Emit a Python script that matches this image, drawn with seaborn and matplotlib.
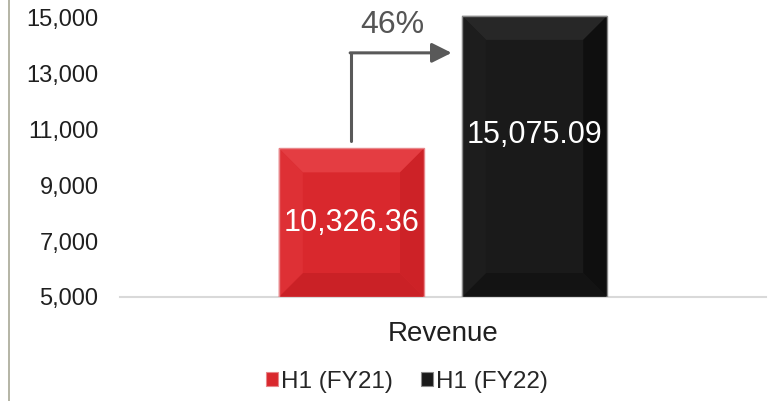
import matplotlib
matplotlib.use("Agg")
import matplotlib.pyplot as plt
import seaborn as sns
import pandas as pd
import numpy as np
from matplotlib.patches import Polygon, Patch
from matplotlib.lines import Line2D

# ---- data ----
categories = ["Revenue"]
periods = ["H1 (FY21)", "H1 (FY22)"]
values = [10326.36, 15075.09]
y_ticks = [5000, 7000, 9000, 11000, 13000, 15000]
growth_pct = round((values[1] / values[0] - 1) * 100)

df = pd.DataFrame({"category": categories * len(periods),
                   "period": periods,
                   "value": values})

colors = {"H1 (FY21)": "#D9282D", "H1 (FY22)": "#1A1A1A"}
bevel_cols = {
    "H1 (FY21)": dict(top="#E43D42", left="#DE3035", right="#CD2227", bottom="#CA2126", edge="#E8868A"),
    "H1 (FY22)": dict(top="#272727", left="#1D1D1D", right="#0F0F0F", bottom="#131313", edge="#8A8A8A"),
}

sns.set_theme(style="white")
plt.rcParams["font.family"] = ["Liberation Sans", "DejaVu Sans"]

W, H, DPI = 774, 401, 100
fig = plt.figure(figsize=(W / DPI, H / DPI), dpi=DPI)
ax_left, ax_right, ax_bottom, ax_top = 120, 766, 297, 9.6
ax = fig.add_axes([ax_left / W, 1 - ax_bottom / H, (ax_right - ax_left) / W, (ax_bottom - ax_top) / H])

sns.barplot(data=df, x="category", y="value", hue="period", hue_order=periods,
            palette=colors, width=0.567, gap=0.207, ax=ax, saturation=1,
            edgecolor="none", linewidth=0)

ax.set_xlim(-0.5, 0.5)
ax.set_ylim(5000, 15300)
ax.set_yticks(y_ticks)
ax.set_yticklabels([f"{v:,}" for v in y_ticks])
ax.tick_params(axis="y", length=0, pad=15.5, labelsize=17, labelcolor="#1F1F1F")
ax.tick_params(axis="x", length=0, pad=17, labelsize=20, labelcolor="#1F1F1F")
ax.set_xlabel("")
ax.set_ylabel("")
for s in ["top", "right", "left"]:
    ax.spines[s].set_visible(False)
ax.spines["bottom"].set_color("#D9D9D9")
ax.spines["bottom"].set_linewidth(1.5)
ax.grid(False)
if ax.legend_ is not None:
    ax.legend_.remove()

# ---- bevel effect derived from bar patches ----
bars = [p for p in ax.patches if p.get_height() > 0]
bars.sort(key=lambda p: p.get_x())
inv = ax.transData.inverted()
b = 24
for p, per in zip(bars, periods):
    x0d, y0d = p.get_x(), p.get_y()
    x1d, y1d = x0d + p.get_width(), y0d + p.get_height()
    (x0, y0) = ax.transData.transform((x0d, max(y0d, 5000)))
    (x1, y1) = ax.transData.transform((x1d, y1d))
    polys = {
        "top": [(x0, y1), (x1, y1), (x1 - b, y1 - b), (x0 + b, y1 - b)],
        "bottom": [(x0, y0), (x1, y0), (x1 - b, y0 + b), (x0 + b, y0 + b)],
        "left": [(x0, y0), (x0, y1), (x0 + b, y1 - b), (x0 + b, y0 + b)],
        "right": [(x1, y0), (x1, y1), (x1 - b, y1 - b), (x1 - b, y0 + b)],
    }
    for k, pts in polys.items():
        dpts = inv.transform(np.array(pts))
        ax.add_patch(Polygon(dpts, closed=True, facecolor=bevel_cols[per][k], edgecolor="none", zorder=3))
    ax.add_patch(Polygon(inv.transform(np.array([(x0, y0), (x0, y1), (x1, y1), (x1, y0)])),
                         closed=True, fill=False, edgecolor=bevel_cols[per]["edge"], linewidth=1, zorder=4))

# ---- value labels ----
label_y = [7660, 10800]
for p, v, ly in zip(bars, values, label_y):
    ax.text(p.get_x() + p.get_width() / 2, ly, f"{v:,.2f}", ha="center", va="center",
            color="white", fontsize=22, zorder=5)

# ---- growth arrow ----
arrow_y = 13750
red, blk = bars[0], bars[1]
xs = red.get_x() + red.get_width() / 2
ax.plot([xs, xs], [values[0] + 250, arrow_y], color="#595959", lw=2.2, solid_capstyle="round", zorder=5)
tip_x = blk.get_x() - 0.016
ax.annotate("", xy=(tip_x, arrow_y), xytext=(xs - 0.002, arrow_y),
            arrowprops=dict(arrowstyle="-|>,head_length=1.0,head_width=0.5", color="#595959", lw=2.2,
                            shrinkA=0, shrinkB=0), zorder=5)
ax.text(-0.079, 14750, f"{growth_pct}%", ha="center", va="center", fontsize=23, color="#555555", zorder=5)

# ---- legend ----
handles = [Patch(facecolor=colors[p], edgecolor=bevel_cols[p]["edge"], linewidth=0.8) for p in periods]
fig.legend(handles, periods, loc="center", bbox_to_anchor=(407 / W, 1 - 382 / H), ncol=2,
           frameon=False, fontsize=17.5, handlelength=0.5, handleheight=0.5, handletextpad=0.12,
           columnspacing=1.15, labelcolor="#262626")

# ---- left frame line ----
fig.add_artist(Line2D([8.5 / W, 8.5 / W], [0, 1], color="#A8A896", lw=1.2))

fig.savefig("out.png", dpi=DPI, facecolor="white")
